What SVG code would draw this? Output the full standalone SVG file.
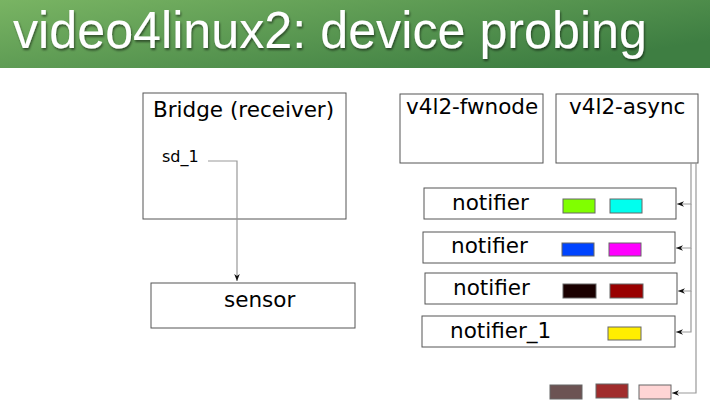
<svg xmlns="http://www.w3.org/2000/svg" width="710" height="419" viewBox="0 0 710 419">
<defs>
<linearGradient id="hdr" x1="0" y1="0" x2="1" y2="0.6">
<stop offset="0" stop-color="#79b463"/>
<stop offset="1" stop-color="#3e7e42"/>
</linearGradient>
<marker id="arr" viewBox="0 0 10 10" refX="10" refY="5" markerWidth="7" markerHeight="7" markerUnits="userSpaceOnUse" orient="auto">
<path d="M0,1 L10,5 L0,9 L3,5 Z" fill="#111"/>
</marker>
<filter id="sh" x="-5%" y="-20%" width="110%" height="150%">
<feDropShadow dx="1" dy="2" stdDeviation="1" flood-color="#000" flood-opacity="0.5"/>
</filter>
</defs>
<style>
.box{fill:#fff;stroke:#555;stroke-width:1}
.lbl{font-family:"DejaVu Sans",sans-serif;font-size:21.5px;fill:#000}
.small{font-family:"DejaVu Sans",sans-serif;font-size:16px;fill:#000}
.sw{stroke:#666;stroke-width:1}
.con{fill:none;stroke:#999;stroke-width:1.2}
</style>
<rect x="0" y="0" width="710" height="68" fill="url(#hdr)"/>
<text x="13" y="48" font-family="Liberation Sans, Arial, sans-serif" font-size="52" fill="#fff" textLength="634" lengthAdjust="spacingAndGlyphs" filter="url(#sh)">video4linux2: device probing</text>

<g id="bridge">
<rect class="box" x="143" y="93" width="203" height="126"/>
<text class="lbl" x="153" y="117">Bridge (receiver)</text>
<text class="small" x="162" y="162">sd_1</text>
</g>
<g id="sensor">
<rect class="box" x="151" y="283" width="204" height="45"/>
<text class="lbl" x="224" y="307">sensor</text>
</g>
<g id="fwnode">
<rect class="box" x="400" y="94" width="143" height="69"/>
<text class="lbl" x="406" y="114">v4l2-fwnode</text>
</g>
<g id="async">
<rect class="box" x="556" y="94" width="142" height="69"/>
<text class="lbl" x="569" y="114">v4l2-async</text>
</g>
<g id="notifier1">
<rect class="box" x="424" y="188" width="252" height="31"/>
<text class="lbl" x="452" y="210">notifier</text>
<rect class="sw" x="563" y="199" width="32" height="14" fill="#80ff00"/>
<rect class="sw" x="610" y="199" width="32" height="14" fill="#00ffee"/>
</g>
<g id="notifier2">
<rect class="box" x="423" y="232" width="252" height="31"/>
<text class="lbl" x="451" y="253">notifier</text>
<rect class="sw" x="562" y="243" width="32" height="13" fill="#0044ff"/>
<rect class="sw" x="609" y="243" width="32" height="13" fill="#ff00ff"/>
</g>
<g id="notifier3">
<rect class="box" x="425" y="273" width="252" height="31"/>
<text class="lbl" x="453" y="295">notifier</text>
<rect class="sw" x="563" y="284" width="33" height="14" fill="#1a0000"/>
<rect class="sw" x="610" y="284" width="33" height="14" fill="#990000"/>
</g>
<g id="notifier4">
<rect class="box" x="422" y="316" width="253" height="31"/>
<text class="lbl" x="450" y="338">notifier_1</text>
<rect class="sw" x="608" y="327" width="33" height="13" fill="#ffee00"/>
</g>
<g id="extra">
<rect class="sw" x="550" y="385" width="32" height="14" fill="#6c5353"/>
<rect class="sw" x="596" y="384" width="32" height="14" fill="#a02c2c"/>
<rect class="sw" x="639" y="385" width="32" height="14" fill="#ffd5d5"/>
</g>

<g id="connectors">
<path class="con" d="M208,161 H237 V281" marker-end="url(#arr)"/>
<path class="con" d="M691,163 V204 H677" marker-end="url(#arr)"/>
<path class="con" d="M691,204 V248 H676" marker-end="url(#arr)"/>
<path class="con" d="M691,248 V291 H678" marker-end="url(#arr)"/>
<path class="con" d="M691,291 V332 H676" marker-end="url(#arr)"/>
<path class="con" d="M696,163 V393 H672" marker-end="url(#arr)"/>
</g>
</svg>
